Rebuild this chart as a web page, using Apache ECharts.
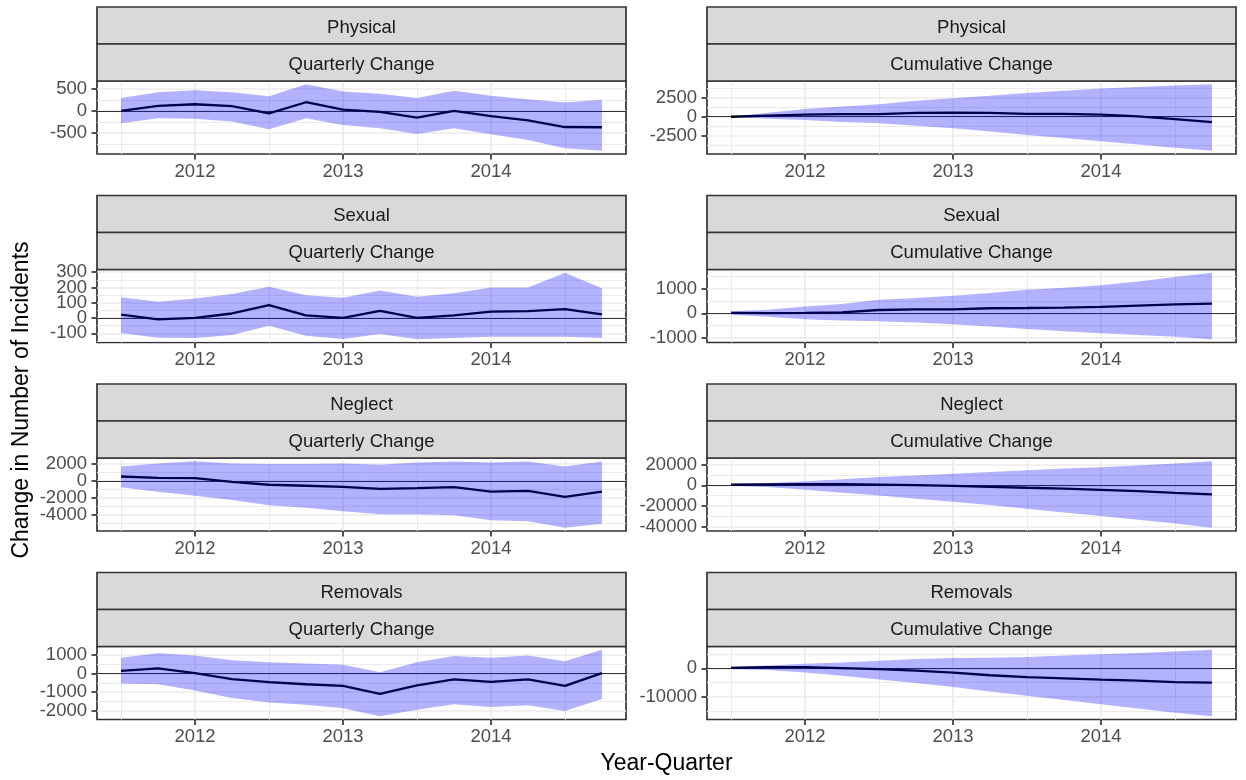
<!DOCTYPE html>
<html>
<head>
<meta charset="utf-8">
<title>Change in Number of Incidents</title>
<script src="https://cdn.jsdelivr.net/npm/echarts@6/dist/echarts.min.js"></script>
<style>
html, body { margin: 0; padding: 0; background: #fff; }
#chart { width: 1246px; height: 780px; }
</style>
</head>
<body>
<div id="chart"></div>
<script>
var quarters = [2011.5, 2011.75, 2012, 2012.25, 2012.5, 2012.75, 2013, 2013.25, 2013.5, 2013.75, 2014, 2014.25, 2014.5, 2014.75];
var xTicks = [2012, 2013, 2014];
var xMinor = [2011.5, 2012.5, 2013.5, 2014.5];

var rowNames = ['Physical', 'Sexual', 'Neglect', 'Removals'];
var colNames = ['Quarterly Change', 'Cumulative Change'];

// Physical
var physQEst = [0, 115, 150, 105, -55, 195, 30, -25, -155, 0, -120, -215, -365, -370];
var physQHi  = [290, 420, 465, 420, 330, 600, 440, 385, 290, 455, 340, 265, 190, 250];
var physQLo  = [-280, -165, -180, -240, -415, -165, -320, -395, -525, -395, -530, -660, -845, -900];
var physQTicks = [-500, 0, 500];
var physQMinor = [-750, -250, 250];

var physCEst = [0, 140, 280, 355, 330, 510, 550, 515, 375, 375, 270, 35, -320, -695];
var physCHi  = [0, 520, 1000, 1350, 1650, 2080, 2420, 2750, 3120, 3420, 3700, 3900, 4100, 4250];
var physCLo  = [0, -260, -440, -690, -870, -1170, -1520, -1940, -2380, -2780, -3200, -3640, -4080, -4450];
var physCTicks = [-2500, 0, 2500];
var physCMinor = [-3750, -1250, 1250, 3750];

// Sexual
var sexQEst = [22, -8, 2, 30, 85, 18, 2, 47, 2, 18, 42, 45, 58, 24];
var sexQHi  = [137, 107, 128, 158, 205, 150, 133, 180, 140, 162, 200, 200, 296, 195];
var sexQLo  = [-98, -128, -130, -110, -50, -115, -137, -104, -138, -130, -122, -122, -122, -130];
var sexQTicks = [-100, 0, 100, 200, 300];
var sexQMinor = [-150, -50, 50, 150, 250];

var sexCEst = [20, 10, 15, 40, 135, 160, 160, 205, 215, 230, 258, 315, 365, 392];
var sexCHi  = [80, 140, 280, 380, 550, 620, 720, 830, 960, 1040, 1140, 1300, 1480, 1650];
var sexCLo  = [-60, -140, -240, -295, -325, -380, -450, -535, -635, -730, -815, -885, -960, -1055];
var sexCTicks = [-1000, 0, 1000];
var sexCMinor = [-500, 500, 1500];

// Neglect
var negQEst = [530, 370, 330, -120, -450, -570, -690, -940, -860, -735, -1265, -1185, -1880, -1265];
var negQHi  = [1710, 2080, 2330, 2080, 2000, 2000, 2080, 1920, 2200, 2300, 2200, 2300, 1710, 2300];
var negQLo  = [-735, -1265, -1740, -2270, -2870, -3190, -3590, -3950, -3950, -4070, -4670, -4790, -5540, -5060];
var negQTicks = [-4000, -2000, 0, 2000];
var negQMinor = [-5000, -3000, -1000, 1000];

var negCEst = [550, 850, 1100, 1000, 600, 100, -600, -1500, -2350, -3150, -4350, -5500, -7300, -8800];
var negCHi  = [1000, 2300, 3930, 5900, 7870, 9500, 11150, 12800, 14400, 16000, 17400, 19000, 21000, 23000];
var negCLo  = [-500, -1640, -4260, -7200, -9800, -12800, -15700, -19000, -22600, -26200, -29500, -33100, -36700, -40650];
var negCTicks = [-40000, -20000, 0, 20000];
var negCMinor = [-30000, -10000, 10000];

// Removals
var remQEst = [150, 280, 20, -295, -465, -575, -665, -1095, -630, -315, -445, -315, -665, 20];
var remQHi  = [850, 1090, 980, 720, 610, 540, 480, 75, 610, 945, 850, 980, 665, 1280];
var remQLo  = [-540, -575, -905, -1315, -1555, -1685, -1870, -2295, -1945, -1650, -1795, -1705, -2020, -1370];
var remQTicks = [-2000, -1000, 0, 1000];
var remQMinor = [-1500, -500, 500];

var remCEst = [140, 400, 400, 80, -330, -860, -1500, -2450, -3150, -3550, -4000, -4350, -4900, -5030];
var remCHi  = [500, 960, 1570, 2050, 2650, 3250, 3610, 3730, 3980, 4460, 4940, 5420, 5900, 6500];
var remCLo  = [-250, -600, -1450, -2650, -3980, -5180, -6630, -8190, -9640, -11200, -12650, -14200, -15660, -16870];
var remCTicks = [-10000, 0];
var remCMinor = [-15000, -5000, 5000];

var panels = [
    {est: physQEst, hi: physQHi, lo: physQLo, ticks: physQTicks, minor: physQMinor},
    {est: physCEst, hi: physCHi, lo: physCLo, ticks: physCTicks, minor: physCMinor},
    {est: sexQEst, hi: sexQHi, lo: sexQLo, ticks: sexQTicks, minor: sexQMinor},
    {est: sexCEst, hi: sexCHi, lo: sexCLo, ticks: sexCTicks, minor: sexCMinor},
    {est: negQEst, hi: negQHi, lo: negQLo, ticks: negQTicks, minor: negQMinor},
    {est: negCEst, hi: negCHi, lo: negCLo, ticks: negCTicks, minor: negCMinor},
    {est: remQEst, hi: remQHi, lo: remQLo, ticks: remQTicks, minor: remQMinor},
    {est: remCEst, hi: remCHi, lo: remCLo, ticks: remCTicks, minor: remCMinor}
];

var FONT = '"Liberation Sans", Arial, Helvetica, sans-serif';
var colLeft = [97, 707];
var plotW = 529;
var plotTop = [81, 269.5, 458, 646.5];
var plotH = 73;
var stripH = 37;

// ggplot style 5% expansion
function limits(lo, hi) {
    var mn = Math.min.apply(null, lo), mx = Math.max.apply(null, hi);
    var pad = (mx - mn) * 0.05;
    return [mn - pad, mx + pad];
}
var xPad = (quarters[quarters.length - 1] - quarters[0]) * 0.05;
var xMin = quarters[0] - xPad, xMax = quarters[quarters.length - 1] + xPad;

function pairs(xs, ys) {
    return xs.map(function (x, i) { return [x, ys[i]]; });
}
function plain(v) { return String(v); }

var labelStyle = {fontSize: 18.5, fontFamily: FONT, color: '#4d4d4d'};

var chart = echarts.init(document.getElementById('chart'), null, {renderer: 'canvas'});

var grids = [], xAxes = [], yAxes = [], series = [], graphics = [];

panels.forEach(function (p, i) {
    var row = Math.floor(i / 2), col = i % 2;
    var top = plotTop[row], left = colLeft[col];
    grids.push({
        left: left, top: top, width: plotW, height: plotH,
        show: true, borderColor: '#333', borderWidth: 1.7, backgroundColor: '#fff'
    });
    var lim = limits(p.lo, p.hi);
    // labels are shared between two axes so neighbouring labels never get auto-hidden
    var evenLabels = p.ticks.filter(function (t, k) { return k % 2 === 0; });
    var oddLabels = p.ticks.filter(function (t, k) { return k % 2 === 1; });

    // main x axis
    xAxes.push({
        type: 'value', gridIndex: i, min: xMin, max: xMax, position: 'bottom',
        axisLine: {show: false, onZero: false},
        axisTick: {show: true, length: 5.5, customValues: xTicks, lineStyle: {color: '#333', width: 1.7}},
        axisLabel: echarts.util.merge({customValues: xTicks, margin: 8, formatter: plain,
            showMinLabel: true, showMaxLabel: true}, labelStyle),
        splitLine: {show: true, lineStyle: {color: '#ebebeb', width: 1.7}}
    });
    // minor x grid
    xAxes.push({
        type: 'value', gridIndex: i, min: xMin, max: xMax, position: 'top',
        axisLine: {show: false, onZero: false},
        axisTick: {show: false, customValues: xMinor},
        axisLabel: {show: false},
        splitLine: {show: true, lineStyle: {color: '#ebebeb', width: 1}}
    });
    // main y axis: ticks, major grid, even labels
    yAxes.push({
        type: 'value', gridIndex: i, min: lim[0], max: lim[1], position: 'left',
        axisLine: {show: false, onZero: false},
        axisTick: {show: true, length: 5.5, customValues: p.ticks, lineStyle: {color: '#333', width: 1.7}},
        axisLabel: echarts.util.merge({customValues: evenLabels, margin: 10, formatter: plain,
            showMinLabel: true, showMaxLabel: true}, labelStyle),
        splitLine: {show: true, lineStyle: {color: '#ebebeb', width: 1.7}}
    });
    // second y axis: minor grid, odd labels pulled over to the left edge
    yAxes.push({
        type: 'value', gridIndex: i, min: lim[0], max: lim[1], position: 'right', offset: -plotW,
        axisLine: {show: false, onZero: false},
        axisTick: {show: false, customValues: p.minor},
        axisLabel: echarts.util.merge({show: oddLabels.length > 0, inside: true,
            customValues: oddLabels.length ? oddLabels : [0], margin: 10, formatter: plain,
            showMinLabel: true, showMaxLabel: true}, labelStyle),
        splitLine: {show: true, lineStyle: {color: '#ebebeb', width: 1}}
    });

    var xi = i * 2, yi = i * 2;
    // estimate line (under the ribbon) with the zero reference line
    series.push({
        type: 'line', xAxisIndex: xi, yAxisIndex: yi, z: 2,
        data: pairs(quarters, p.est), showSymbol: false, symbol: 'none',
        lineStyle: {color: '#000', width: 2.3},
        markLine: {
            silent: true, symbol: 'none', z: 1, animation: false,
            label: {show: false},
            lineStyle: {color: '#333', width: 1.2, type: 'solid'},
            data: [{yAxis: 0}]
        }
    });
    // confidence ribbon as one polygon through the axis scales
    series.push({
        type: 'custom', xAxisIndex: xi, yAxisIndex: yi, z: 3,
        data: quarters.map(function (q, k) { return [q, p.lo[k], p.hi[k]]; }),
        encode: {x: 0, y: [1, 2]},
        renderItem: function (params, api) {
            if (params.dataIndex !== 0) return;
            var pts = [], k;
            for (k = 0; k < quarters.length; k++) pts.push(api.coord([quarters[k], p.hi[k]]));
            for (k = quarters.length - 1; k >= 0; k--) pts.push(api.coord([quarters[k], p.lo[k]]));
            return {
                type: 'polygon',
                shape: {points: pts},
                style: {fill: 'rgba(0,0,255,0.3)', stroke: null}
            };
        }
    });

    // facet strips
    var labels = [rowNames[row], colNames[col]];
    labels.forEach(function (txt, s) {
        var y0 = top - stripH * (2 - s);
        graphics.push({
            type: 'rect', z: 10,
            shape: {x: left, y: y0, width: plotW, height: stripH},
            style: {fill: '#d9d9d9', stroke: '#333', lineWidth: 1.7}
        });
        graphics.push({
            type: 'text', z: 11, x: left + plotW / 2, y: y0 + stripH / 2 + 2,
            style: {text: txt, font: '18.5px ' + FONT, fill: '#1a1a1a',
                textAlign: 'center', textVerticalAlign: 'middle'}
        });
    });
});

graphics.push({
    type: 'text', z: 11, x: 666.5, y: 764,
    style: {text: 'Year-Quarter', font: '23px ' + FONT, fill: '#000',
        textAlign: 'center', textVerticalAlign: 'middle'}
});
graphics.push({
    type: 'text', z: 11, x: 22, y: 400, rotation: Math.PI / 2,
    style: {text: 'Change in Number of Incidents', font: '23px ' + FONT, fill: '#000',
        textAlign: 'center', textVerticalAlign: 'middle'}
});

chart.setOption({
    animation: false,
    backgroundColor: '#fff',
    grid: grids,
    xAxis: xAxes,
    yAxis: yAxes,
    series: series,
    graphic: graphics
});
</script>
</body>
</html>
